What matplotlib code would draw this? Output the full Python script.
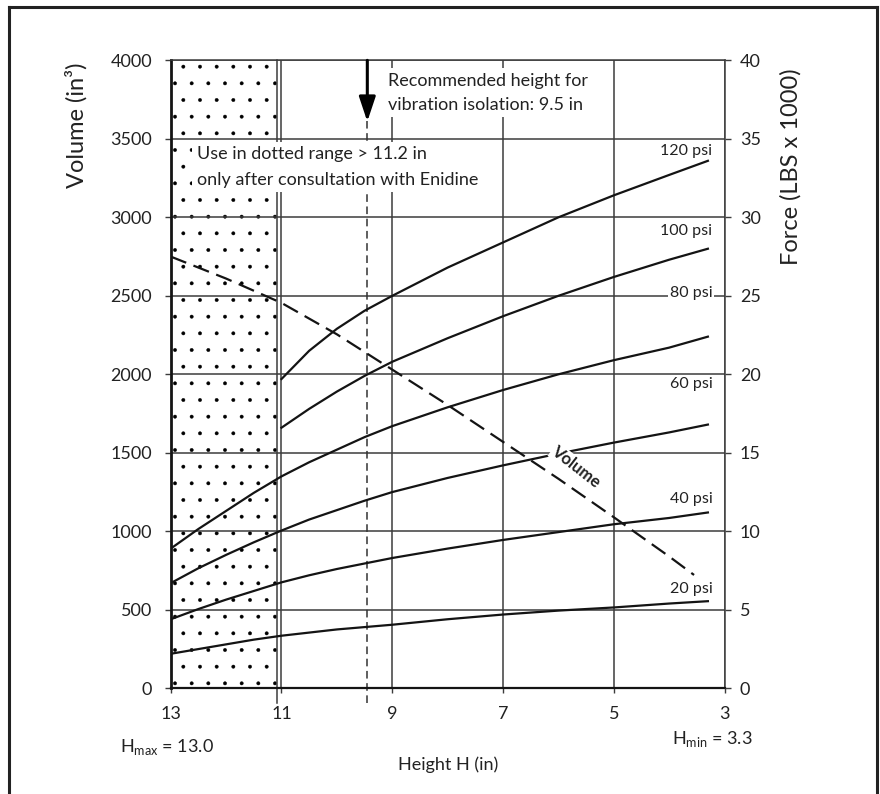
'''air spring chart: volume and force vs height, recreated with matplotlib'''

import matplotlib
matplotlib.use("Agg")
import matplotlib.pyplot as plt
from matplotlib.lines import Line2D

plt.rcParams['font.family'] = ['Lato', 'DejaVu Sans']
plt.rcParams['mathtext.fontset'] = 'custom'
plt.rcParams['mathtext.rm'] = 'Lato'
plt.rcParams['hatch.linewidth'] = 0.3

height = [13, 12.5, 12, 11.5, 11, 10.5, 10, 9.5, 9, 8, 7, 6, 5, 4, 3.3]
height_hi = [11, 10.5, 10, 9.5, 9, 8, 7, 6, 5, 4, 3.3]  # 100 and 120 psi start at 11 in

# force (LBS x 1000) per pressure
force_20 = [2.2, 2.5, 2.8, 3.1, 3.35, 3.55, 3.75, 3.9, 4.05, 4.4, 4.7, 4.95, 5.15, 5.4, 5.55]
force_40 = [4.4, 5.05, 5.65, 6.2, 6.75, 7.2, 7.6, 7.95, 8.3, 8.9, 9.45, 9.95, 10.45, 10.85, 11.2]
force_60 = [6.7, 7.65, 8.5, 9.3, 10.05, 10.75, 11.35, 11.95, 12.5, 13.4, 14.2, 14.95, 15.65, 16.3, 16.8]
force_80 = [8.9, 10.15, 11.3, 12.45, 13.5, 14.4, 15.2, 16.0, 16.7, 17.9, 19.0, 20.0, 20.9, 21.7, 22.4]
force_100 = [16.6, 17.8, 18.9, 19.9, 20.8, 22.3, 23.7, 25.0, 26.2, 27.3, 28.0]
force_120 = [19.7, 21.5, 22.9, 24.05, 25.0, 26.8, 28.4, 30.0, 31.4, 32.7, 33.6]

psi_labels = ['20 psi', '40 psi', '60 psi', '80 psi', '100 psi', '120 psi']
label_y = [6.1, 11.8, 19.1, 24.9, 28.9, 34.0]

# volume (in^3), dashed line
vol_height = [13, 12, 11, 10, 9, 8, 7, 6, 5, 4, 3.55]
volume = [2750, 2610, 2455, 2255, 2030, 1805, 1570, 1335, 1090, 840, 722]

x_ticks = [13, 11, 9, 7, 5, 3]
vol_ticks = list(range(0, 4001, 500))
force_ticks = list(range(0, 41, 5))

recommended = 9.45   # drawn position of the 9.5 in marker
dotted_edge = 11.08  # right edge of dotted range

grid_col = '#3c3c3c'
ink = '#141414'

fig = plt.figure(figsize=(8.8, 7.94), dpi=100)
ax = fig.add_axes([0.194, 0.1331, 0.6293, 0.7909])
ax2 = ax.twinx()

ax.set_xlim(13, 3)
ax.set_ylim(0, 4000)
ax.set_xticks(x_ticks)
ax.set_yticks(vol_ticks)
ax2.set_ylim(0, 40)
ax2.set_yticks(force_ticks)

ax.grid(True, color=grid_col, lw=1.1)
for s in ['top', 'right']:
    ax.spines[s].set_color(grid_col)
    ax.spines[s].set_linewidth(1.1)
ax.spines['left'].set_linewidth(2.0)
ax.spines['left'].set_color(ink)
ax.spines['bottom'].set_linewidth(1.6)
ax.spines['bottom'].set_color(ink)
for s in ax2.spines.values():
    s.set_visible(False)

ax.tick_params(axis='y', direction='out', length=4.5, width=1, pad=9,
               labelsize=13, color=grid_col, labelcolor='#222')
ax.tick_params(axis='x', direction='out', length=3.5, width=1, pad=9,
               labelsize=13, color=grid_col, labelcolor='#222')
ax2.tick_params(axis='y', direction='out', length=4.5, width=1, pad=6.5,
                labelsize=13, color=grid_col, labelcolor='#222')

# dotted range
ax.axvspan(dotted_edge, 13, facecolor='white', edgecolor='black',
           hatch='.', lw=0, zorder=1)
ax.plot([dotted_edge, dotted_edge], [-95, 4000], color=grid_col, lw=1.1,
        clip_on=False, zorder=2)

# recommended height marker
ax.plot([recommended, recommended], [-95, 3615], color='#333', lw=1.1,
        ls=(0, (5, 3)), clip_on=False, zorder=2)
ax.annotate('', xy=(recommended, 3610), xytext=(recommended, 4000),
            arrowprops=dict(arrowstyle='-|>,head_length=1.5,head_width=0.5',
                            color='black', lw=2.2, shrinkA=0, shrinkB=0))

# volume
ax.plot(vol_height, volume, color=ink, lw=1.6, dashes=(7.5, 3.5), zorder=3)

# force curves
knock = dict(facecolor='white', edgecolor='none', boxstyle='square,pad=0.08')
curves = [(height, force_20), (height, force_40), (height, force_60),
          (height, force_80), (height_hi, force_100), (height_hi, force_120)]
for (h, f), lab, ly in zip(curves, psi_labels, label_y):
    ax2.plot(h, f, color=ink, lw=1.6)
    ax2.text(3.22, ly, lab, ha='right', va='baseline', fontsize=11.5,
             color='#222', bbox=knock)

box = dict(facecolor='white', edgecolor='none', boxstyle='square,pad=0.25')
ax2.text(9.07, 39.22, 'Recommended height for\nvibration isolation: 9.5 in',
         ha='left', va='top', fontsize=13, linespacing=1.62, color='#222', bbox=box)
ax2.text(12.53, 34.54, 'Use in dotted range > 11.2 in\nonly after consultation with Enidine',
         ha='left', va='top', fontsize=13, linespacing=1.75, color='#222', bbox=box)
ax2.text(5.68, 14.1, 'Volume', rotation=-38, ha='center', va='center',
         fontsize=12, fontweight='bold', color='#222',
         bbox=dict(facecolor='white', edgecolor='none', boxstyle='square,pad=0.05'))

# axis titles and notes
fig.text(76 / 880, 1 - 62 / 794, 'Volume (in³)', rotation=90, ha='center',
         va='top', fontsize=17, color='#222')
fig.text(791 / 880, 1 - 68 / 794, 'Force (LBS x 1000)', rotation=90, ha='center',
         va='top', fontsize=17, color='#222')
fig.text(448 / 880, 1 - 765 / 794, 'Height H (in)', ha='center', va='center',
         fontsize=13, color='#222')
fig.text(120 / 880, 1 - 752 / 794, r'H$_{\mathregular{max}}$ = 13.0', ha='left',
         va='baseline', fontsize=13, color='#222')
fig.text(753 / 880, 1 - 744 / 794, r'H$_{\mathregular{min}}$ = 3.3', ha='right',
         va='baseline', fontsize=13, color='#222')

# outer frame, open at the bottom
fx0, fx1, fy1 = 9 / 880, 877 / 880, 1 - 7 / 794
for xs, ys in [([fx0, fx0], [0, fy1]), ([fx0, fx1], [fy1, fy1]), ([fx1, fx1], [0, fy1])]:
    fig.add_artist(Line2D(xs, ys, transform=fig.transFigure, color='#222', lw=2.2))

fig.savefig('out.png', dpi=100)
